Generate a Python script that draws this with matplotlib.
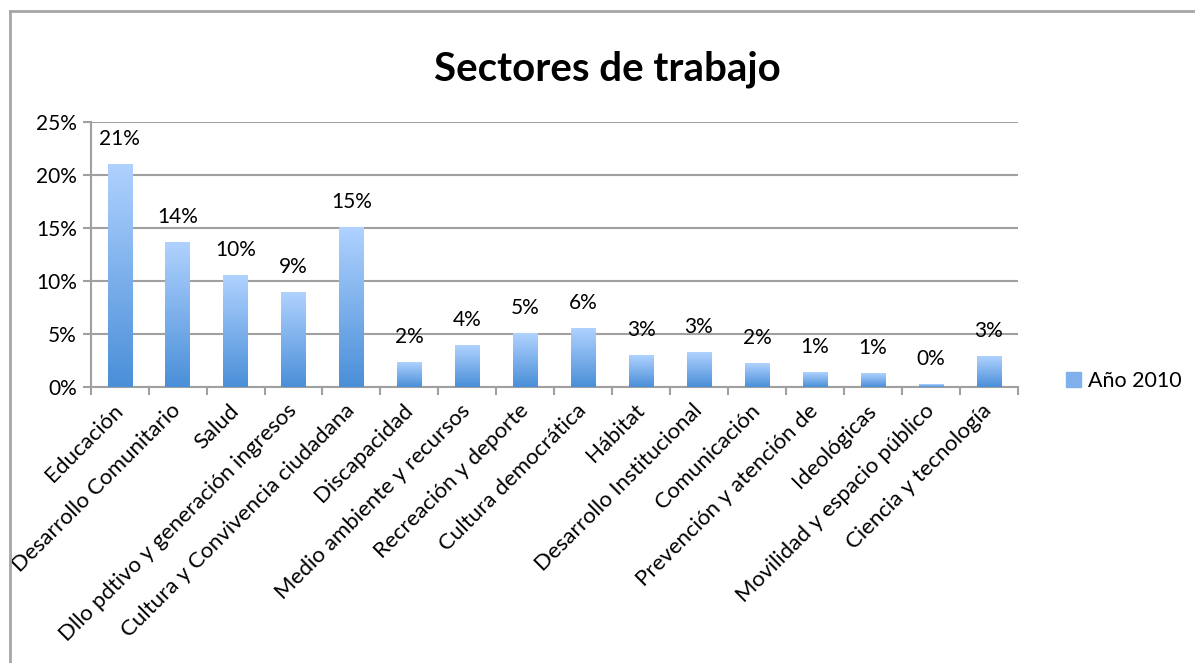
import numpy as np
import matplotlib
matplotlib.use("Agg")
import matplotlib.pyplot as plt
from matplotlib.lines import Line2D
from matplotlib.colors import LinearSegmentedColormap
from matplotlib.ticker import FuncFormatter, FixedLocator

plt.rcParams['font.family'] = ['Lato', 'DejaVu Sans']

# data
sectores = ["Educación", "Desarrollo Comunitario", "Salud",
            "Dllo pdtivo y generación ingresos", "Cultura y Convivencia ciudadana",
            "Discapacidad", "Medio ambiente y recursos", "Recreación y deporte",
            "Cultura democrática", "Hábitat", "Desarrollo Institucional",
            "Comunicación", "Prevención y atención de", "Ideológicas",
            "Movilidad y espacio público", "Ciencia y tecnología"]
valores = [0.211, 0.1365, 0.1056, 0.0895, 0.151, 0.0233, 0.0394, 0.0508,
           0.0555, 0.030, 0.0328, 0.0224, 0.0139, 0.013, 0.0026, 0.029]
etiquetas = ["21%", "14%", "10%", "9%", "15%", "2%", "4%", "5%", "6%",
             "3%", "3%", "2%", "1%", "1%", "0%", "3%"]
serie = "Año 2010"

fig = plt.figure(figsize=(11.95, 6.63), dpi=100)
ax = fig.add_axes([0.0759, 0.4167, 0.7757, 0.3988])

x = np.arange(len(sectores))
bars = ax.bar(x, valores, width=0.42, color="#7fb0ec", zorder=3, label=serie)

# gradient fill, light on top, darker at the bottom
cmap = LinearSegmentedColormap.from_list("g", ["#4a8fd8", "#b0d2ff"])
grad = np.linspace(0, 1, 256).reshape(-1, 1)
for b in bars:
    bx, by = b.get_x(), b.get_y()
    w, h = b.get_width(), b.get_height()
    b.set_facecolor("none")
    b.set_edgecolor("none")
    im = ax.imshow(grad, cmap=cmap, origin="lower", aspect="auto",
                   extent=(bx, bx + w, by, by + h), zorder=3)
    im.set_clip_path(b)

for xi, v, t in zip(x, valores, etiquetas):
    ax.annotate(t, (xi, v), xytext=(0, 18), textcoords="offset points",
                ha="center", va="center", fontsize=15, color="black")

ax.set_xlim(-0.5, len(sectores) - 0.5)
ax.set_ylim(0, 0.25)
ax.set_yticks(np.arange(0, 0.26, 0.05))
ax.yaxis.set_major_formatter(FuncFormatter(lambda v, p: f"{v*100:.0f}%"))
ax.grid(axis="y", color="#a0a0a0", linewidth=1.5, zorder=0)
ax.set_axisbelow(True)

# ticks between categories, labels at centers
ax.xaxis.set_major_locator(FixedLocator(np.arange(-0.5, len(sectores), 1)))
ax.xaxis.set_major_formatter(FuncFormatter(lambda v, p: ""))
ax.xaxis.set_minor_locator(FixedLocator(x))
ax.set_xticklabels(sectores, minor=True, rotation=45, ha="right", va="center",
                   rotation_mode="anchor", fontsize=16)
ax.tick_params(axis="x", which="minor", length=0, pad=15)
ax.tick_params(axis="x", which="major", length=6, width=1.5, color="#a0a0a0")
ax.tick_params(axis="y", length=6, width=1.5, color="#a0a0a0", labelsize=15, pad=4)

for s in ["top", "right"]:
    ax.spines[s].set_visible(False)
for s in ["left", "bottom"]:
    ax.spines[s].set_color("#a0a0a0")
    ax.spines[s].set_linewidth(1.5)

fig.text(0.508, 0.895, "Sectores de trabajo", ha="center", va="center",
         fontsize=29, fontweight="bold")

leg = fig.legend(handles=[plt.Rectangle((0, 0), 1, 1, color="#7fb0ec")],
                 labels=[serie], loc="center left", bbox_to_anchor=(0.876, 0.425),
                 frameon=False, fontsize=15.5, handlelength=0.7, handleheight=0.7,
                 handletextpad=0.3)

# chart frame (only left and top visible)
fig.add_artist(Line2D([10/1195, 10/1195], [0, 1 - 11/663], color="#a6a6a6",
                      linewidth=2, transform=fig.transFigure))
fig.add_artist(Line2D([10/1195, 1], [1 - 11/663, 1 - 11/663], color="#a6a6a6",
                      linewidth=2, transform=fig.transFigure))

fig.savefig("out.png", dpi=100)
